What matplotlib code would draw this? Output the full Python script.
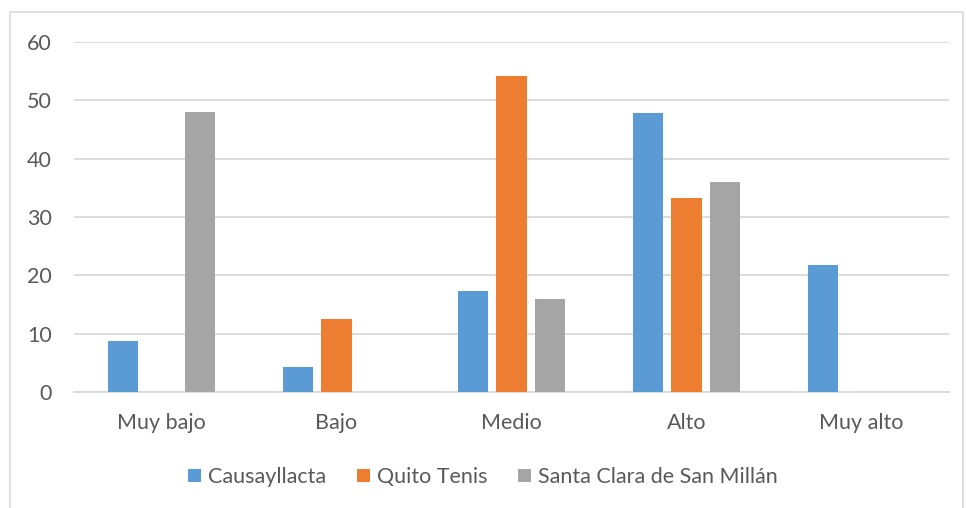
import matplotlib.pyplot as plt
import numpy as np
from matplotlib.patches import Rectangle

# niveles y porcentajes por institución
categorias = ["Muy bajo", "Bajo", "Medio", "Alto", "Muy alto"]
causayllacta = [8.7, 4.3, 17.4, 47.8, 21.7]
quito_tenis = [0, 12.5, 54.2, 33.3, 0]
santa_clara = [48.0, 0, 16.0, 36.0, 0]
series = ["Causayllacta", "Quito Tenis", "Santa Clara de San Millán"]
colores = ["#5b9bd5", "#ed7d31", "#a5a5a5"]

plt.rcParams['font.family'] = ['Lato', 'DejaVu Sans']

fig = plt.figure(figsize=(9.66, 5.08), dpi=100)
ax = fig.add_axes([74/966, 116/508, 875/966, 350/508])

x = np.arange(len(categorias))
ancho = 0.177
desp = 0.22
for k, (vals, nombre, c) in enumerate(zip([causayllacta, quito_tenis, santa_clara], series, colores)):
    ax.bar(x + (k - 1)*desp, vals, width=ancho, color=c, label=nombre, zorder=3)

ax.set_xlim(-0.5, len(categorias) - 0.5)
ax.set_ylim(0, 60)
ax.set_yticks(range(0, 61, 10))
ax.set_xticks(x)
ax.set_xticklabels(categorias)
ax.grid(axis='y', color='#d9d9d9', linewidth=1.3, zorder=0)
for s in ['top', 'right', 'left']:
    ax.spines[s].set_visible(False)
ax.spines['bottom'].set_color('#d9d9d9')
ax.spines['bottom'].set_linewidth(1.3)
ax.tick_params(length=0, labelsize=15.5, colors='#595959')
ax.tick_params(axis='x', pad=15)
ax.tick_params(axis='y', pad=16)

fig.legend(loc='center', bbox_to_anchor=(0.5, 1 - 477/508), ncol=3, frameon=False,
           fontsize=15.5, labelcolor='#595959', handlelength=0.6, handleheight=0.6,
           handletextpad=0.35, columnspacing=1.4)

# borde exterior del gráfico
fig.patches.append(Rectangle((10/966, -0.05), 953/966, 1 - 12/508 + 0.05,
                             transform=fig.transFigure, fill=False,
                             edgecolor='#d9d9d9', linewidth=1.2))

fig.savefig("out.png", dpi=100)
